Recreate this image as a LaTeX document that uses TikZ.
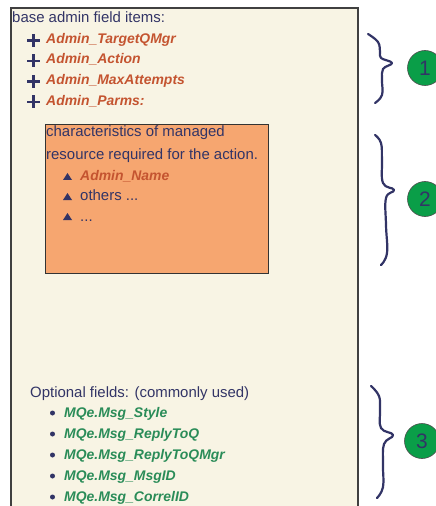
\documentclass[tikz,border=0pt]{standalone}
\usepackage{fontspec}
\setmainfont{Liberation Sans}
\begin{document}
\definecolor{cream}{RGB}{248,244,228}
\definecolor{peach}{RGB}{246,166,112}
\definecolor{navy}{RGB}{50,52,102}
\definecolor{rust}{RGB}{196,84,48}
\definecolor{leaf}{RGB}{42,140,88}
\definecolor{badge}{RGB}{10,158,72}
\begin{tikzpicture}[x=1bp,y=-1bp,
  plain/.style={anchor=base west,inner sep=0pt,text=navy,font=\fontsize{15}{18}\selectfont},
  field/.style={anchor=base west,inner sep=0pt,text=rust,font=\fontsize{14}{17}\selectfont\bfseries\itshape},
  optfield/.style={anchor=base west,inner sep=0pt,text=leaf,font=\fontsize{14}{17}\selectfont\bfseries\itshape},
  plusmark/.style={draw=navy,line width=2.4bp},
  trimark/.style={fill=navy,draw=none},
  dotmark/.style={fill=navy,draw=none},
  bracecurve/.style={draw=navy,line width=2.2bp,line cap=round,line join=round},
  numbadge/.style={circle,fill=badge,draw=black!70,line width=0.6bp,minimum size=35bp,inner sep=0pt,text=navy,font=\fontsize{21}{24}\selectfont}]
\useasboundingbox (0,0) rectangle (436,506);
\fill[white] (0,0) rectangle (436,506);

% main panel
\draw[fill=cream,draw=black!75,line width=1.4bp] (11,8) rectangle (358,530);

% base admin fields
\node[plain] (hdr) at (12,23) {base admin field items:};
\node[field] (f1) at (46,44) {Admin\_TargetQMgr};
\node[field] (f2) at (46,64) {Admin\_Action};
\node[field] (f3) at (46,85) {Admin\_MaxAttempts};
\node[field] (f4) at (46,106) {Admin\_Parms:};
\foreach \y in {40.5,61,81.5,102}{
  \draw[plusmark] (27,\y) -- (40,\y);
  \draw[plusmark] (33.5,\y-6.5) -- (33.5,\y+6.5);
}

% managed resource box
\draw[fill=peach,draw=black!80,line width=0.9bp] (45,124) rectangle (268,273);
\node[plain] (r1) at (46,137) {characteristics of managed};
\node[plain] (r2) at (46,160) {resource required for the action.};
\node[field] (r3) at (80,181) {Admin\_Name};
\node[plain] (r4) at (80,201) {others ...};
\node[plain] (r5) at (80,221) {...};
\foreach \y in {180,200,220}{
  \fill[trimark] (63,\y) -- (72,\y) -- (67.5,\y-7) -- cycle;
}

% optional fields
\node[plain] (o0) at (30,397) {Optional fields: (commonly used)};
\node[optfield] (o1) at (64,417) {MQe.Msg\_Style};
\node[optfield] (o2) at (64,438) {MQe.Msg\_ReplyToQ};
\node[optfield] (o3) at (64,459) {MQe.Msg\_ReplyToQMgr};
\node[optfield] (o4) at (64,480) {MQe.Msg\_MsgID};
\node[optfield] (o5) at (64,501) {MQe.Msg\_CorrelID};
\foreach \y in {413,434,455,476,497}{
  \fill[dotmark] (52.5,\y) circle (2.5);
}

% braces
\draw[bracecurve] plot[smooth,tension=0.7] coordinates {(368,34) (378,42) (380,52) (381,58) (392,63) (383,69) (382,80) (382,95) (375,103)};
\draw[bracecurve] plot[smooth,tension=0.7] coordinates {(375,135) (381,143) (382,160) (383,183) (394,190) (386,198) (386,225) (387,253) (381,265)};
\draw[bracecurve] plot[smooth,tension=0.7] coordinates {(371,386) (379,396) (380,410) (381,428) (393,435) (384,444) (383,465) (383,487) (377,498)};

% section badges
\node[numbadge] (b1) at (425,68) {1};
\node[numbadge] (b2) at (425,199) {2};
\node[numbadge] (b3) at (422,441) {3};
\end{tikzpicture}
\end{document}
